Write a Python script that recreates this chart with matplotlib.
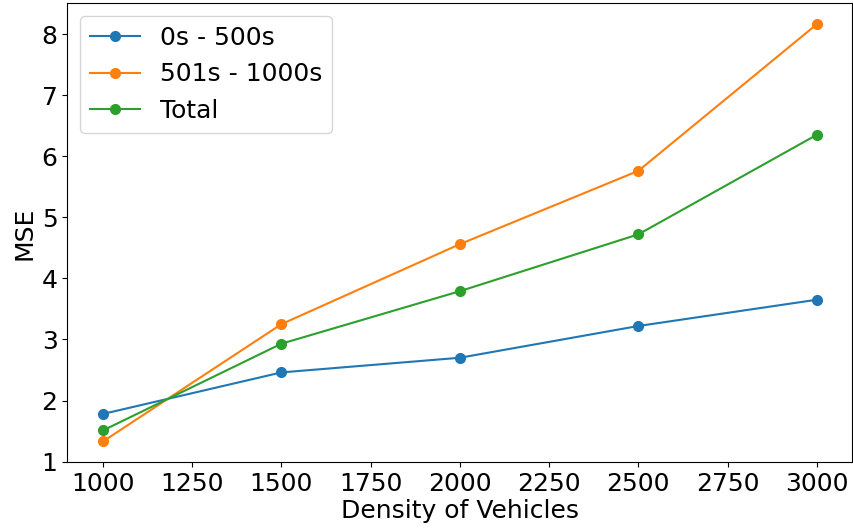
import matplotlib
matplotlib.use("Agg")
import matplotlib.pyplot as plt

density = [1000, 1500, 2000, 2500, 3000]
mse_first = [1.78, 2.46, 2.70, 3.22, 3.65]
mse_second = [1.33, 3.25, 4.56, 5.76, 8.16]
mse_total = [1.51, 2.93, 3.79, 4.72, 6.35]
labels = ["0s - 500s", "501s - 1000s", "Total"]

fig = plt.figure(figsize=(8.54, 5.31), dpi=100)
ax = fig.add_axes([0.0788, 0.1294, 0.9194, 0.8642])

for ys, lab in zip([mse_first, mse_second, mse_total], labels):
    ax.plot(density, ys, marker="o", markersize=7, label=lab)

ax.set_xlabel("Density of Vehicles", fontsize=18, labelpad=2)
ax.set_ylabel("MSE", fontsize=18)
ax.tick_params(labelsize=18)
ax.set_xticks([1000, 1250, 1500, 1750, 2000, 2250, 2500, 2750, 3000])
ax.legend(loc="upper left", fontsize=18)

fig.savefig("out.png", dpi=100)
